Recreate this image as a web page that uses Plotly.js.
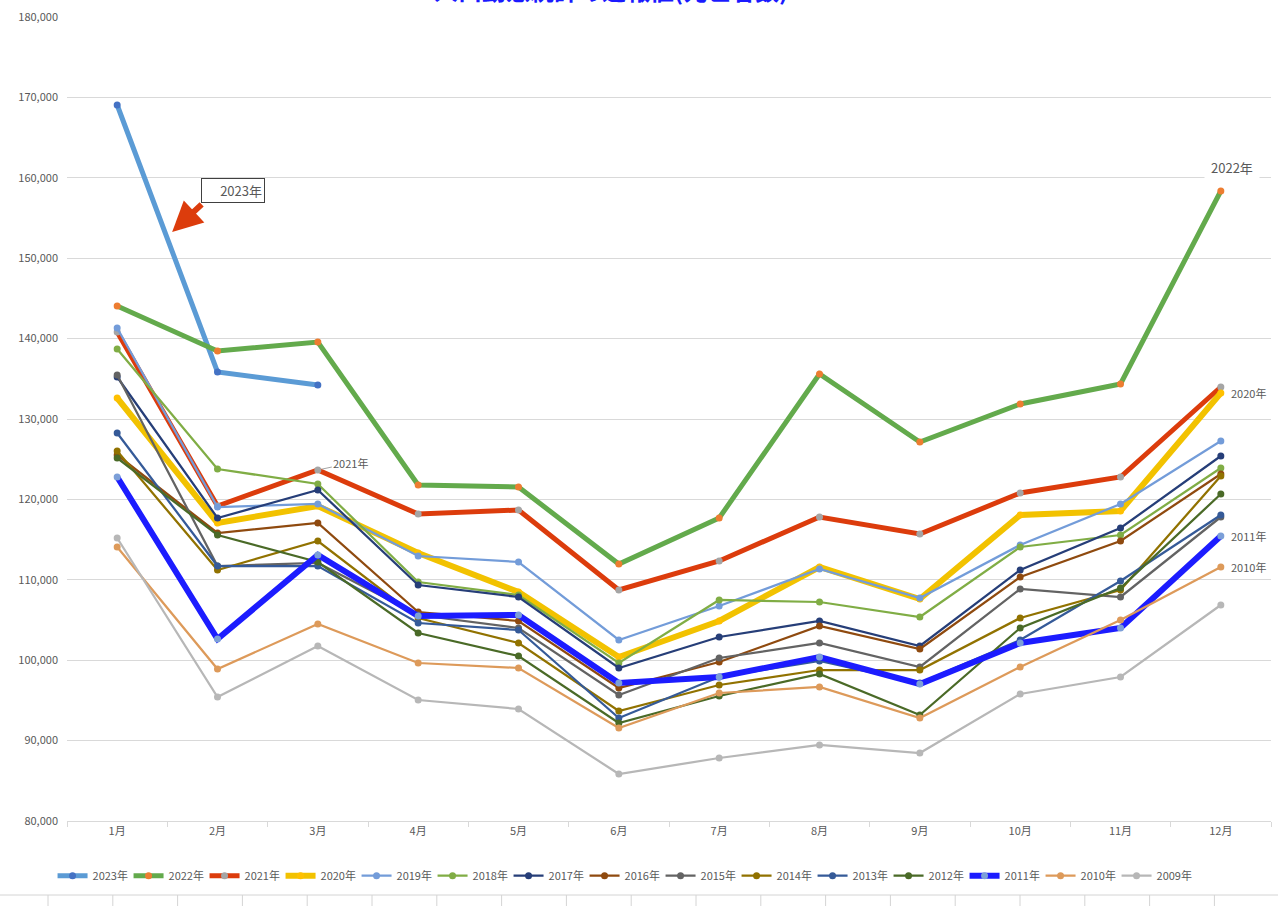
<!DOCTYPE html>
<html><head><meta charset="utf-8">
<script src="https://cdn.plot.ly/plotly-3.0.1.min.js"></script>
<style>html,body{margin:0;padding:0;background:#fff;}#chart{width:1278px;height:906px;}</style>
</head><body><div id="chart"></div>
<script>
const months = ['1月','2月','3月','4月','5月','6月','7月','8月','9月','10月','11月','12月'];
const seriesNames = ['2023年','2022年','2021年','2020年','2019年','2018年','2017年','2016年','2015年','2014年','2013年','2012年','2011年','2010年','2009年'];
const y2023 = [169055,135846,134229];
const y2022 = [144055,138458,139577,121791,121542,111965,117687,135597,127139,131866,134353,158358];
const y2021 = [140821,119179,123657,118184,118682,108731,112338,117811,115697,120796,122786,133980];
const y2020 = [132612,117065,119179,113333,108483,100398,104876,111592,107612,118060,118557,133234];
const y2019 = [141318,119055,119428,112960,112214,102512,106741,111343,107736,114328,119428,127264];
const y2018 = [138706,123781,121915,109726,108109,99652,107488,107239,105373,114080,115572,123905];
const y2017 = [135224,117687,121169,109353,107861,99030,102886,104876,101766,111219,116443,125398];
const y2016 = [125522,115821,117065,105995,104876,96542,99776,104254,101393,110348,114826,123159];
const y2015 = [135473,111716,112090,105622,104005,95672,100274,102139,99154,108856,107861,117811];
const y2014 = [126020,111219,114826,105249,102139,93682,96915,98781,98781,105249,108731,122910];
const y2013 = [128259,111716,111716,104627,103756,92811,97910,99900,97164,102512,109851,118060];
const y2012 = [125149,115572,112214,103383,100522,92189,95547,98284,93184,104005,108980,120672];
const y2011 = [122786,102637,113085,105498,105622,97164,97910,100398,97040,102139,104005,115448];
const y2010 = [114080,98905,104502,99652,99030,91567,95920,96667,92811,99154,105000,111592];
const y2009 = [115199,95423,101766,95050,93930,85846,87836,89453,88458,95796,97910,106866];
const seriesValues = [y2023,y2022,y2021,y2020,y2019,y2018,y2017,y2016,y2015,y2014,y2013,y2012,y2011,y2010,y2009];

const lineColors = ['#5b9bd5','#63aa4c','#dc3c0c','#f2c200','#739cd9','#80ad45','#263e78','#8f4a0f','#636363','#917200','#355a98','#4a6a27','#1c1cff','#dd9a5a','#b7b7b7'];
const markerColors = ['#4472c4','#ed7d31','#a5a5a5','#ffc000','#739cd9','#80ad45','#263e78','#8f4a0f','#636363','#917200','#355a98','#4a6a27','#7c9fd8','#dd9a5a','#b7b7b7'];
const lineWidths = [5,5,5,6,2.25,2.25,2.25,2.25,2.25,2.25,2.25,2.25,6,2.25,2.25];

const FONT = '"Noto Sans CJK JP", "Noto Sans", sans-serif';
const GREY = '#595959';

const traces = seriesValues.map((vals, i) => ({
  type: 'scatter', mode: 'lines+markers',
  x: months.slice(0, vals.length), y: vals, name: seriesNames[i],
  line: {color: lineColors[i], width: lineWidths[i]},
  marker: {color: markerColors[i], size: 7},
  hoverinfo: 'skip'
}));

const last = a => a[a.length - 1];

const annotations = [
  {xref:'paper', yref:'paper', x:0.452, y:1 + (17-9)/804, xanchor:'center', yanchor:'bottom', showarrow:false,
   text:'<b>人口動態統計の速報値(死亡者数)</b>', font:{family:FONT, size:24, color:'#1a1aff'}},
  {x:1.155, y:158482, xref:'x', yref:'y', showarrow:false, text:'2023年', width:58, align:'right',
   bordercolor:'#404040', borderwidth:1, borderpad:2, bgcolor:'#fff', font:{family:FONT, size:13, color:GREY}},
  {x:0.548, y:153259, xref:'x', yref:'y', text:'', showarrow:true, ax:31, ay:-29,
   arrowcolor:'#dc3c0c', arrowwidth:6, arrowhead:2, arrowsize:1},
  {x:11, y:last(y2022), xref:'x', yref:'y', showarrow:false, text:'2022年', xshift:11, yshift:24,
   bgcolor:'#fff', borderpad:6, font:{family:FONT, size:13, color:GREY}},
  {x:11, y:last(y2020), xref:'x', yref:'y', showarrow:false, text:'2020年', xanchor:'left', xshift:8,
   font:{family:FONT, size:11, color:GREY}},
  {x:11, y:last(y2011), xref:'x', yref:'y', showarrow:false, text:'2011年', xanchor:'left', xshift:8,
   font:{family:FONT, size:11, color:GREY}},
  {x:11, y:last(y2010), xref:'x', yref:'y', showarrow:false, text:'2010年', xanchor:'left', xshift:8,
   font:{family:FONT, size:11, color:GREY}},
  {x:2, y:y2021[2], xref:'x', yref:'y', showarrow:true, text:'2021年', ax:33, ay:-7, arrowhead:0,
   arrowwidth:1, arrowcolor:'#a5a5a5', standoff:4, font:{family:FONT, size:11, color:GREY}}
];

const shapes = [{type:'line', xref:'paper', yref:'paper', x0:-67/1204, x1:(1278-67)/1204,
  y0:-(895-821)/804, y1:-(895-821)/804, line:{color:'#d4d4d4', width:1}}];
for (let i = 0; i < 19; i++) {
  const px = 48 + i * 64.8;
  shapes.push({type:'line', xref:'paper', yref:'paper', x0:(px-67)/1204, x1:(px-67)/1204,
    y0:-(895-821)/804, y1:-(906-821)/804, line:{color:'#d4d4d4', width:1}});
}

const layout = {
  width:1278, height:906, margin:{l:67, r:7, t:17, b:85},
  paper_bgcolor:'#fff', plot_bgcolor:'#fff',
  font:{family:FONT, size:11, color:GREY},
  showlegend:true,
  xaxis:{type:'category', range:[-0.5,11.5], tickson:'boundaries', ticks:'outside', ticklen:5,
    tickcolor:'#d9d9d9', showline:true, linecolor:'#d9d9d9', showgrid:false, zeroline:false,
    tickfont:{family:FONT, size:11, color:GREY}, fixedrange:true},
  yaxis:{range:[80000,180000], dtick:10000, tickformat:',d', gridcolor:'#d9d9d9', gridwidth:1,
    zeroline:false, showline:false, ticks:'', ticklabelstandoff:8,
    tickfont:{family:FONT, size:11, color:GREY}, fixedrange:true},
  legend:{orientation:'h', x:-0.012, xanchor:'left', y:-0.068, yanchor:'middle',
    font:{family:FONT, size:11, color:GREY}, itemwidth:30, entrywidth:31, tracegroupgap:0,
    bgcolor:'rgba(0,0,0,0)'},
  annotations, shapes
};

Plotly.newPlot('chart', traces, layout, {displayModeBar:false, staticPlot:true});
</script></body></html>
